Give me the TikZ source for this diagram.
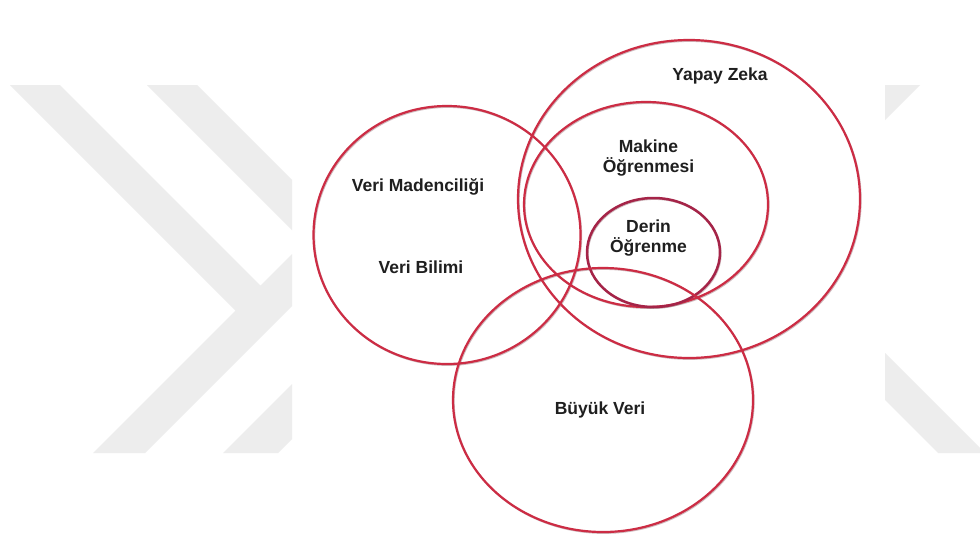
\documentclass[tikz,border=0pt]{standalone}
\usepackage{fontspec}
\setmainfont{Liberation Sans}
\usetikzlibrary{shapes.geometric}
\definecolor{wmgray}{RGB}{237,237,237}
\definecolor{ringred}{RGB}{204,44,68}
\definecolor{ringdeep}{RGB}{165,36,72}
\definecolor{ringshade}{RGB}{120,60,70}
\begin{document}
\begin{tikzpicture}[x=1pt,y=-1pt,
  ring/.style={ellipse, draw=ringred, line width=2.2pt, inner sep=0pt, outer sep=0pt},
  ringlabel/.style={font=\fontsize{17.5}{20}\selectfont\bfseries, text=black!88, inner sep=0pt, align=center}]
\useasboundingbox (0,0) rectangle (980,541);
\fill[white] (0,0) rectangle (980,541);

% light grey watermark strokes at both sides
\fill[wmgray] (10,85) -- (60,85) -- (260.5,285.5) -- (292,254) -- (292,306)
  -- (145,453) -- (93,453) -- (235.5,310.5) -- cycle;
\fill[wmgray] (147,85) -- (197,85) -- (292,180) -- (292,230) -- cycle;
\fill[wmgray] (292,384) -- (292,439) -- (278,453) -- (223,453) -- cycle;
\fill[wmgray] (885,85) -- (920,85) -- (885,120) -- cycle;
\fill[wmgray] (885,353) -- (980,448) -- (980,453) -- (938,453) -- (885,400) -- cycle;

% soft shading under the rings
\begin{scope}[opacity=0.35, shift={(0.9,1.1)}]
  \draw[ringshade, line width=1.6pt] (447,235) ellipse [x radius=133.5, y radius=129];
  \draw[ringshade, line width=1.6pt] (689,199) ellipse [x radius=171, y radius=159];
  \draw[ringshade, line width=1.6pt] (646,204.5) ellipse [x radius=122, y radius=102.5];
  \draw[ringshade, line width=1.6pt] (653.5,252.5) ellipse [x radius=66.5, y radius=54.5];
  \draw[ringshade, line width=1.6pt] (603,400) ellipse [x radius=150, y radius=132];
\end{scope}

% rings
\node[ring, minimum width=267pt, minimum height=258pt] (veri) at (447,235) {};
\node[ring, minimum width=342pt, minimum height=318pt] (yz) at (689,199) {};
\node[ring, minimum width=244pt, minimum height=205pt] (mo) at (646,204.5) {};
\node[ring, draw=ringdeep, line width=2.5pt, minimum width=133pt, minimum height=109pt] (do) at (653.5,252.5) {};
\node[ring, minimum width=300pt, minimum height=264pt] (bv) at (603,400) {};

% labels
\node[ringlabel, anchor=base] (lvm) at (418,191) {Veri Madenciliği};
\node[ringlabel, anchor=base] (lvb) at (421,273) {Veri Bilimi};
\node[ringlabel, anchor=base] (lyz) at (720,80) {Yapay Zeka};
\node[ringlabel] (lmo) at (648.5,158.5) {Makine\\Öğrenmesi};
\node[ringlabel] (ldo) at (648.5,238.5) {Derin\\Öğrenme};
\node[ringlabel, anchor=base] (lbv) at (600,414) {Büyük Veri};
\end{tikzpicture}
\end{document}
